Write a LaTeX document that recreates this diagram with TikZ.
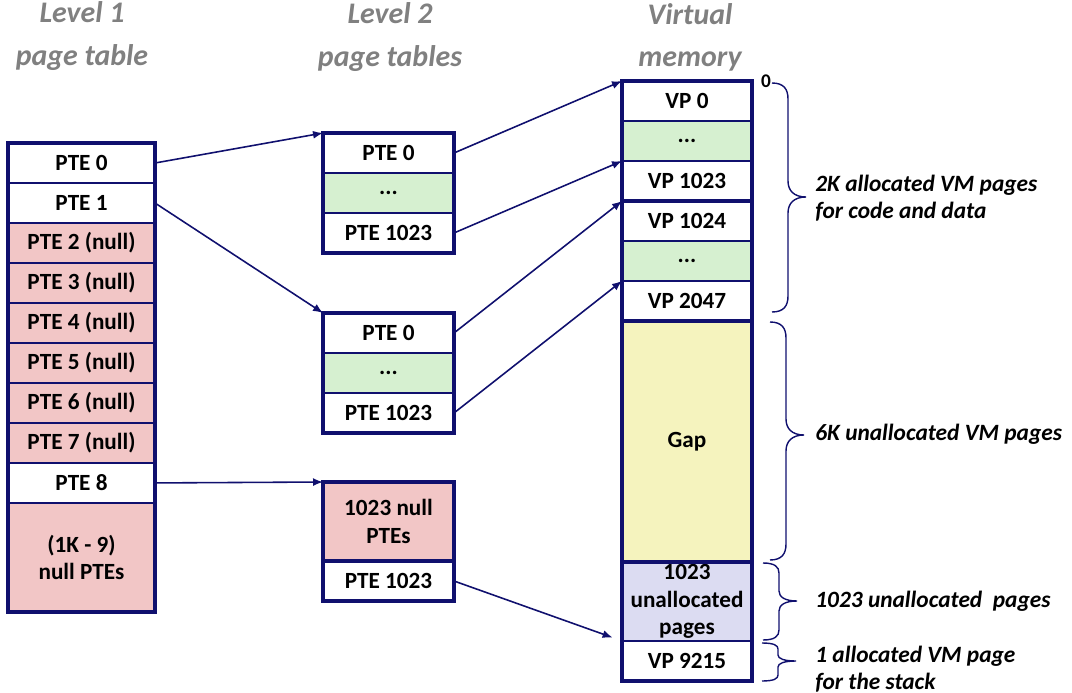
\documentclass[tikz,border=0pt]{standalone}
\usepackage{fontspec}
\setmainfont{Carlito}
\usetikzlibrary{arrows.meta}
\usetikzlibrary{calc,positioning}

\definecolor{navyln}{RGB}{16,16,110}
\definecolor{nullfill}{RGB}{242,198,198}
\definecolor{dotsfill}{RGB}{214,240,208}
\definecolor{gapfill}{RGB}{245,243,190}
\definecolor{unfill}{RGB}{220,220,242}
\definecolor{headgray}{RGB}{128,128,128}

% x, top, mid, bottom, curl
\newcommand{\vmbrace}[5]{%
  \draw[brc] (#1,#2) .. controls (#1+12,#2) and (#1+16,#2+#5*0.4) .. (#1+16,#2+#5)
    -- (#1+16,#3-#5) .. controls (#1+16,#3-#5*0.4) and (#1+22,#3) .. (#1+34,#3)
    .. controls (#1+22,#3) and (#1+16,#3+#5*0.4) .. (#1+16,#3+#5)
    -- (#1+16,#4-#5) .. controls (#1+16,#4-#5*0.4) and (#1+12,#4) .. (#1,#4);}

\tikzset{
  cell/.style={draw=navyln, line width=1.1pt, fill=white, inner sep=0pt, outer sep=0pt,
    minimum height=0.8cm, align=center, font=\fontsize{13.2}{15.5}\selectfont\bfseries},
  pte/.style={cell, minimum width=2.94cm},
  pte2/.style={cell, minimum width=2.62cm},
  vp/.style={cell, minimum width=2.6cm},
  frame/.style={draw=navyln, line width=2.3pt},
  link/.style={->, draw=navyln, line width=0.9pt},
  brc/.style={draw=navyln, line width=0.8pt},
  head/.style={align=center, text=headgray, font=\fontsize{17}{24}\selectfont\bfseries\itshape},
  note/.style={anchor=west, align=left, inner sep=0pt, font=\fontsize{13.3}{15.5}\selectfont\bfseries\itshape}
}

\begin{document}
\begin{tikzpicture}[x=0.02cm, y=-0.02cm, >={Latex[length=2mm,width=1.6mm]}]
    \useasboundingbox (0,0) rectangle (1072,693);

    % titles
    \node[head] (h1) at (82,36) {Level 1\\page table};
    \node[head] (h2) at (390,37) {Level 2\\page tables};
    \node[head] (h3) at (690,37) {Virtual\\memory};

    % level 1 page table
    \node[pte] (p0) at (81.5,163) {PTE 0};
    \node[pte, below=0pt of p0] (p1) {PTE 1};
    \foreach \i [evaluate=\i as \j using int(\i-1)] in {2,...,7}
        \node[pte, fill=nullfill, below=0pt of p\j] (p\i) {PTE \i{} (null)};
    \node[pte, below=0pt of p7] (p8) {PTE 8};
    \node[pte, fill=nullfill, minimum height=2.18cm, below=0pt of p8] (pn) {(1K - 9)\\null PTEs};
    \draw[frame] (p0.north west) rectangle (pn.south east);

    % level 2 page tables
    \node[pte2] (a0) at (388.5,153) {PTE 0};
    \node[pte2, fill=dotsfill, below=0pt of a0] (a1) {...};
    \node[pte2, below=0pt of a1] (a2) {PTE 1023};
    \draw[frame] (a0.north west) rectangle (a2.south east);

    \node[pte2] (b0) at (388.5,333) {PTE 0};
    \node[pte2, fill=dotsfill, below=0pt of b0] (b1) {...};
    \node[pte2, below=0pt of b1] (b2) {PTE 1023};
    \draw[frame] (b0.north west) rectangle (b2.south east);

    \node[pte2, fill=nullfill, minimum height=1.58cm] (c0) at (388.5,521.5) {1023 null\\PTEs};
    \node[pte2, below=0pt of c0] (c1) {PTE 1023};
    \draw[frame] (c0.north west) rectangle (c1.south east);
    \draw[frame] (c0.south west) -- (c0.south east);

    % virtual memory
    \node[vp] (v0) at (687,101) {VP 0};
    \node[vp, fill=dotsfill, below=0pt of v0] (v1) {...};
    \node[vp, below=0pt of v1] (v2) {VP 1023};
    \node[vp, below=0pt of v2] (v3) {VP 1024};
    \node[vp, fill=dotsfill, below=0pt of v3] (v4) {...};
    \node[vp, below=0pt of v4] (v5) {VP 2047};
    \node[vp, fill=gapfill, minimum height=4.82cm, below=0pt of v5] (gap) {Gap};
    \node[vp, fill=unfill, minimum height=1.58cm, below=0pt of gap] (un) {1023\\unallocated\\pages};
    \node[vp, below=0pt of un] (vs) {VP 9215};
    \draw[frame] (v0.north west) rectangle (vs.south east);
    \draw[frame] (v2.south west) -- (v2.south east);
    \draw[frame] (v5.south west) -- (v5.south east);
    \draw[frame] (gap.south west) -- (gap.south east);
    \node[inner sep=0pt, font=\fontsize{11}{12}\selectfont\bfseries, right=5pt of v0.north east] (zero) {0};

    % pointers
    \draw[link] (p0.east) -- (a0.north west);
    \draw[link] (p1.east) -- (b0.north west);
    \draw[link] (p8.east) -- (c0.north west);
    \draw[link] (a0.east) -- (v0.north west);
    \draw[link] (a2.east) -- (v2.north west);
    \draw[link] (b0.east) -- (v3.north west);
    \draw[link] (b2.east) -- (v5.north west);
    \draw[link, shorten >=2mm] (c1.east) -- (vs.north west);

    % braces and notes
    \vmbrace{772}{83}{197}{312}{16}
    \vmbrace{770}{322}{435}{560}{16}
    \vmbrace{763}{563}{601}{640}{10}
    \vmbrace{762}{643}{661}{681}{6}
    \node[note] (n1) at (815,198) {2K allocated VM pages\\for code and data};
    \node[note] (n2) at (815,434) {6K unallocated VM pages};
    \node[note] (n3) at (815,601) {1023 unallocated\ \ pages};
    \node[note] (n4) at (815,669) {1 allocated VM page\\for the stack};

\end{tikzpicture}
\end{document}
